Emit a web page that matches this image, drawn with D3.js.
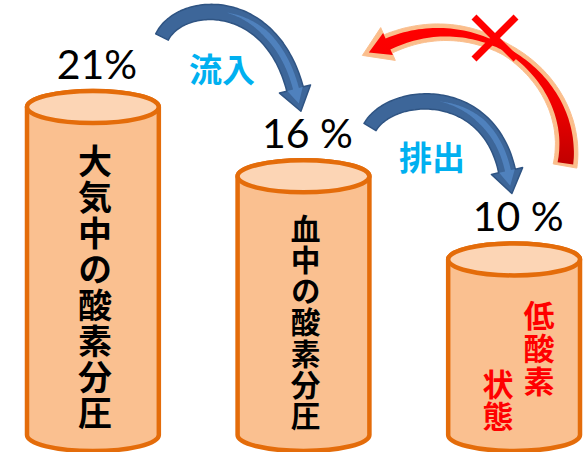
<!DOCTYPE html>
<html>
<head>
<meta charset="utf-8">
<script src="https://cdn.jsdelivr.net/npm/d3@7"></script>
<style>
  html, body { margin: 0; padding: 0; background: #fff; }
  svg { display: block; }
  .vt { writing-mode: vertical-rl; }
</style>
</head>
<body>
<script>
// ---- data ----
const categories = ["大気中の酸素分圧", "血中の酸素分圧", "低酸素状態"];
const values = [21, 16, 10];
const valueLabels = ["21%", "16 %", "10 %"];
const lowOxygenLines = ["低酸素", "状態"];
const flowLabels = ["流入", "排出"];

const W = 583, H = 452;
const svg = d3.select("body").append("svg").attr("width", W).attr("height", H);
svg.append("rect").attr("width", W).attr("height", H).attr("fill", "#fff");

const defs = svg.append("defs");
const rg = defs.append("linearGradient").attr("id", "redGrad")
  .attr("x1", 0).attr("y1", 0).attr("x2", 0).attr("y2", 1);
rg.append("stop").attr("offset", "0%").attr("stop-color", "#FF0000");
rg.append("stop").attr("offset", "55%").attr("stop-color", "#F00000");
rg.append("stop").attr("offset", "100%").attr("stop-color", "#C00000");

const x = d3.scaleBand().domain(categories).range([27, 580]).paddingInner(0.374);
const y = d3.scaleLinear().domain([0, 21]).range([398, 107]);
const base = 435, ry = 16;

const CJK = "'Noto Sans CJK JP', 'Noto Sans CJK SC', sans-serif";

function vText(sel, str, cx, inkTop, pitch, fs, color) {
  sel.append("text").attr("class", "vt")
    .attr("x", cx).attr("y", inkTop - 0.06 * fs)
    .attr("text-anchor", "start")
    .attr("font-family", CJK).attr("font-weight", 700)
    .attr("font-size", fs).attr("letter-spacing", pitch - fs)
    .attr("fill", color).text(str);
}

// ---- cylinders ----
const g = svg.append("g");
categories.forEach((cat, i) => {
  const rx = x.bandwidth() / 2;
  const cx = x(cat) + rx;
  const top = y(values[i]);
  const body = `M${cx - rx},${top} L${cx - rx},${base} A${rx},${ry} 0 0 0 ${cx + rx},${base} L${cx + rx},${top} A${rx},${ry} 0 0 0 ${cx - rx},${top} Z`;
  g.append("path").attr("d", body)
    .attr("fill", "#FAC090").attr("stroke", "#E46C0A").attr("stroke-width", 4.5)
    .attr("stroke-linejoin", "round");
  g.append("ellipse").attr("cx", cx).attr("cy", top).attr("rx", rx).attr("ry", ry)
    .attr("fill", "#FCD5B5").attr("stroke", "#E46C0A").attr("stroke-width", 4.5);

  // value label
  g.append("text").attr("x", cx + 4).attr("y", top - 28)
    .attr("text-anchor", "middle")
    .attr("font-family", "Lato, 'Open Sans', sans-serif")
    .attr("font-size", 41).attr("fill", "#000")
    .text(valueLabels[i]);

  if (cat === "低酸素状態") {
    const pitch = 33, fs = 31;
    vText(g, lowOxygenLines[0], cx + 25, top + 42, pitch, fs, "#FF0000");
    vText(g, lowOxygenLines[1], cx - 16, top + 42 + 2 * pitch + 3, pitch - 1, fs, "#FF0000");
  } else {
    const chars = Array.from(cat);
    const pitch = (base - top - 40) / chars.length;
    const fs = Math.min(34, pitch * 0.95);
    vText(g, cat, cx + 2, top + 39, pitch, fs, "#000");
  }
});

// ---- curved arrows ----
function bez(p, t) {
  const u = 1 - t;
  return [
    u*u*u*p[0][0] + 3*u*u*t*p[1][0] + 3*u*t*t*p[2][0] + t*t*t*p[3][0],
    u*u*u*p[0][1] + 3*u*u*t*p[1][1] + 3*u*t*t*p[2][1] + t*t*t*p[3][1]
  ];
}
function bezD(p, t) {
  const u = 1 - t;
  const dx = 3*u*u*(p[1][0]-p[0][0]) + 6*u*t*(p[2][0]-p[1][0]) + 3*t*t*(p[3][0]-p[2][0]);
  const dy = 3*u*u*(p[1][1]-p[0][1]) + 6*u*t*(p[2][1]-p[1][1]) + 3*t*t*(p[3][1]-p[2][1]);
  const L = Math.hypot(dx, dy) || 1;
  return [dx / L, dy / L];
}
function arrowPath(p, wFn, headLen, headHalf, t0 = 0, t1 = 1, withHead = true, offFn = () => 0) {
  const N = 80, L = [], R = [];
  for (let k = 0; k <= N; k++) {
    const t = t0 + (t1 - t0) * k / N;
    const P = bez(p, t), d = bezD(p, t), n = [-d[1], d[0]];
    const w = wFn(t) / 2, o = offFn(t);
    L.push([P[0] + n[0] * (o + w), P[1] + n[1] * (o + w)]);
    R.push([P[0] + n[0] * (o - w), P[1] + n[1] * (o - w)]);
  }
  let pts = L.slice();
  if (withHead) {
    const P = bez(p, t1), d = bezD(p, t1), n = [-d[1], d[0]];
    pts.push([P[0] + n[0] * headHalf, P[1] + n[1] * headHalf]);
    pts.push([P[0] + d[0] * headLen, P[1] + d[1] * headLen]);
    pts.push([P[0] - n[0] * headHalf, P[1] - n[1] * headHalf]);
  }
  pts = pts.concat(R.reverse());
  return "M" + pts.map(q => q[0].toFixed(1) + "," + q[1].toFixed(1)).join("L") + "Z";
}

const ag = svg.append("g");
const blueArrows = [
  [[162, 37], [180, 0], [270, -6], [295, 89]],
  [[370, 127], [392, 90], [488, 84], [507, 171]]
];
blueArrows.forEach(p => {
  ag.append("path").attr("d", arrowPath(p, t => 14 + 3 * t, 23, 16))
    .attr("fill", "#3D6699").attr("stroke", "#2F5483").attr("stroke-width", 1.5)
    .attr("stroke-linejoin", "round");
  ag.append("path").attr("d", arrowPath(p, t => 6 * Math.min(1, (t - 0.5) * 4), 15, 8, 0.5, 1, true, t => -1))
    .attr("fill", "#4F81BD").attr("stroke", "none");
});

// red (blocked) arrow
const redP = [[565, 166], [580, 80], [482, 2], [388, 44]];
const redW = t => t < 0.55 ? 16 + (4 - 16) * (t / 0.55) : 4 + (12 - 4) * ((t - 0.55) / 0.45);
ag.append("path").attr("d", arrowPath(redP, t => redW(t) + 8, 28, 18))
  .attr("fill", "#FBBE8C").attr("stroke", "#FAC090").attr("stroke-width", 1)
  .attr("stroke-linejoin", "round");
ag.append("path").attr("d", arrowPath(redP, redW, 21, 12, 0.01, 1, true))
  .attr("fill", "url(#redGrad)");

// X mark
const xm = { cx: 495, cy: 38, h: 21 };
ag.append("path")
  .attr("d", `M${xm.cx - xm.h},${xm.cy - xm.h}L${xm.cx + xm.h},${xm.cy + xm.h}M${xm.cx + xm.h},${xm.cy - xm.h}L${xm.cx - xm.h},${xm.cy + xm.h}`)
  .attr("stroke", "#FF0000").attr("stroke-width", 7).attr("fill", "none");

// flow labels
const flowPos = [[222, 68], [432, 156]];
flowLabels.forEach((lab, i) => {
  svg.append("text").attr("x", flowPos[i][0]).attr("y", flowPos[i][1])
    .attr("text-anchor", "middle").attr("dominant-baseline", "central")
    .attr("font-family", CJK).attr("font-weight", 700)
    .attr("font-size", 33).attr("fill", "#00B0F0").text(lab);
});
</script>
</body>
</html>
